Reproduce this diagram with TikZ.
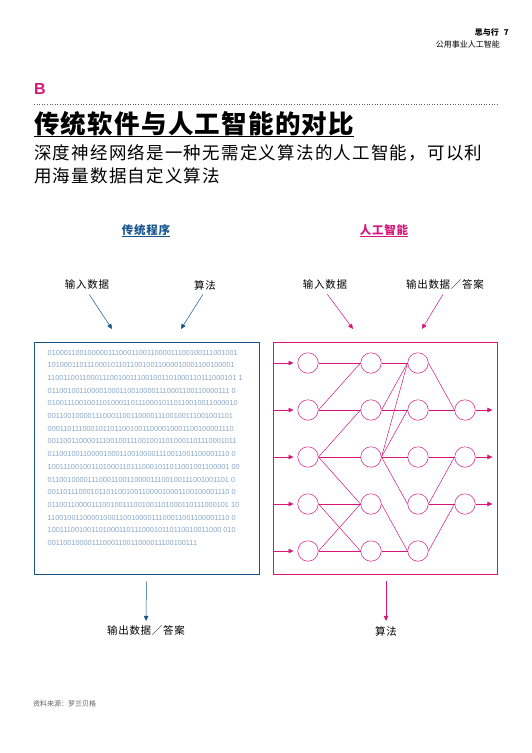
\documentclass[tikz,border=0pt]{standalone}
\usepackage{fontspec}
\setmainfont{Noto Sans CJK SC}
\newfontfamily\cjkspaced[LetterSpace=7]{Noto Sans CJK SC}
\newfontfamily\cjktitle[LetterSpace=5]{Noto Sans CJK SC}
\newfontfamily\latinsans{Liberation Sans}
\usetikzlibrary{arrows.meta,positioning}

\definecolor{dblue}{RGB}{24,84,140}
\definecolor{hotpink}{RGB}{214,22,122}
\definecolor{bitblue}{RGB}{135,165,198}
\definecolor{srcgray}{RGB}{95,95,95}

\tikzset{
  neuron/.style={circle, draw=hotpink, line width=0.5pt, fill=white,
    minimum size=20.5pt, inner sep=0pt},
  syn/.style={hotpink, line width=0.5pt},
  flowlbl/.style={font=\cjkspaced\fontsize{10.5}{12}\selectfont, inner sep=1pt},
  headlbl/.style={font=\cjkspaced\bfseries\fontsize{11.5}{13}\selectfont, inner sep=0pt},
  bluearrow/.style={dblue, line width=0.5pt, -{Triangle[length=5pt,width=4.5pt]}},
  pinkarrow/.style={hotpink, line width=0.5pt, -{Triangle[length=5pt,width=4.5pt]}},
}

\begin{document}
\begin{tikzpicture}[x=1pt,y=-1pt]
  \useasboundingbox (0,0) rectangle (531,753);

  % page head
  \node[anchor=base east, inner sep=0pt, font=\bfseries\fontsize{8}{9}\selectfont]
    (folio) at (509,35) {思与行\hspace{5pt}7};
  \node[anchor=base east, inner sep=0pt, font=\fontsize{8}{9}\selectfont]
    (issue) at (500,47.5) {公用事业人工智能};

  % exhibit title
  \node[anchor=base west, inner sep=0pt, text=hotpink,
    font=\latinsans\bfseries\fontsize{16}{18}\selectfont] (exhibit) at (34,94) {B};
  \draw[srcgray, line width=0.6pt, dotted] (34,104) -- (498,104);
  \node[anchor=base west, inner sep=0pt,
    font=\cjktitle\bfseries\fontsize{25.5}{28}\selectfont] (title) at (34,133) {传统软件与人工智能的对比};
  \draw[line width=1.4pt] (34,136.5) -- (title.east |- 0,136.5);
  \node[anchor=base west, inner sep=0pt, font=\cjkspaced\fontsize{17.5}{23}\selectfont]
    (sub1) at (34,159) {深度神经网络是一种无需定义算法的人工智能，可以利};
  \node[anchor=base west, inner sep=0pt, font=\cjkspaced\fontsize{17.5}{23}\selectfont]
    (sub2) at (34,182) {用海量数据自定义算法};

  % column heads
  \node[headlbl, text=dblue] (progh) at (146,230) {传统程序};
  \draw[dblue, line width=0.7pt] (progh.south west |- 0,236.5) -- (progh.south east |- 0,236.5);
  \node[headlbl, text=hotpink] (aih) at (384,230) {人工智能};
  \draw[hotpink, line width=0.7pt] (aih.south west |- 0,236.5) -- (aih.south east |- 0,236.5);

  % boxes
  \node[draw=dblue, line width=0.8pt, minimum width=225pt, minimum height=232pt,
    inner sep=0pt] (progbox) at (146.5,458) {};
  \node[draw=hotpink, line width=0.8pt, minimum width=224pt, minimum height=232pt,
    inner sep=0pt] (aibox) at (385,458) {};

  % inputs
  \node[flowlbl] (inL) at (87,285) {输入数据};
  \node[flowlbl] (algL) at (205,285) {算法};
  \node[flowlbl] (inR) at (325,285) {输入数据};
  \node[flowlbl] (outR) at (445,285) {输出数据／答案};
  \coordinate (inLtip) at (112,329);
  \coordinate (algLtip) at (181,329);
  \coordinate (inRtip) at (353,329);
  \coordinate (outRtip) at (422,329);
  \draw[bluearrow, shorten <=4pt] (inL.south) -- (inLtip);
  \draw[bluearrow, shorten <=4pt] (algL.south) -- (algLtip);
  \draw[pinkarrow, shorten <=4pt] (inR.south) -- (inRtip);
  \draw[pinkarrow, shorten <=4pt] (outR.south) -- (outRtip);

  % code block
  \node[anchor=north west, align=left, inner sep=0pt, text=bitblue,
    font=\latinsans\fontsize{7.3}{12.67}\selectfont] (bits) at (47.5,350) {%
    010001100100000111000110011000011100100111001001\\
    10100011011100010110110010011000010001100100001\\
    110011001100011100100111001001101000110111000101 1\\
    0110010011000010001100100001110001100110000111 0\\
    010011100100110100011011100010110110010011000010\\
    00110010000111000110011000011100100111001001101\\
    00011011100010110110010011000010001100100001110\\
    001100110000111001001110010011010001101110001011\\
    0110010011000010001100100001110011001100001110 0\\
    1001110010011010001101110001011011001001100001 00\\
    0110010000111000110011000011100100111001001101 0\\
    0011011100010110110010011000010001100100001110 0\\
    0110011000011100100111001001101000110111000101 10\\
    1100100110000100011001000011100011001100001110 0\\
    10011100100110100011011100010110110010011000 010\\
    00110010000111000110011000011100100111};

  % network
  \foreach \x [count=\c] in {308,371,418}
    \foreach \y [count=\r] in {363,410,457,504,551}
      \node[neuron] (n\c\r) at (\x,\y) {};
  \foreach \y [count=\r from 2] in {410,457,504}
    \node[neuron] (n4\r) at (465,\y) {};
  \foreach \a/\b in {11/21,12/21,12/22,13/22,13/23,13/24,14/24,14/25,15/24,15/25,
      21/31,22/31,22/32,23/31,23/32,23/33,23/34,24/35,25/35,
      31/42,32/42,33/43,34/43,34/44,35/44}
    \draw[syn] (n\a.east) -- (n\b.west);
  \foreach \r in {1,...,5}
    \draw[pinkarrow, shorten >=4pt] (aibox.west |- n1\r) -- (n1\r.west);
  \foreach \r in {2,3,4}
    \draw[pinkarrow, shorten >=5pt] (n4\r.east) -- (aibox.east |- n4\r);

  % outputs
  \node[flowlbl] (outL) at (146,631) {输出数据／答案};
  \node[flowlbl] (algR) at (386,631) {算法};
  \draw[bluearrow, shorten <=7pt, shorten >=4pt] (progbox.south) -- (outL.north);
  \draw[pinkarrow, shorten <=7pt, shorten >=4pt] (aibox.south -| algR) -- (algR.north);

  % source
  \node[anchor=base west, inner sep=0pt, text=srcgray, font=\fontsize{7}{8}\selectfont]
    (source) at (33,706) {资料来源：罗兰贝格};
\end{tikzpicture}
\end{document}
